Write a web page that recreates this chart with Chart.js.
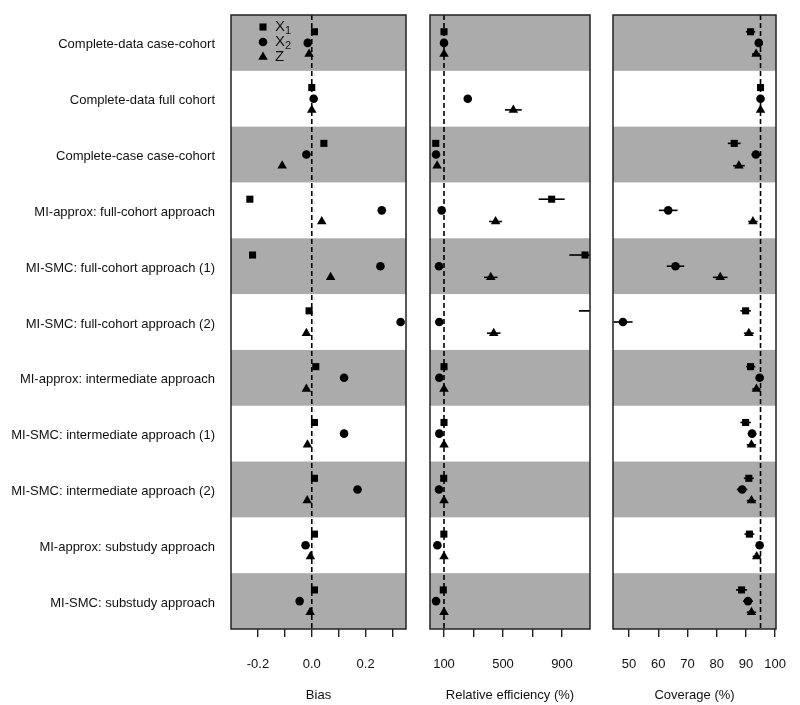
<!DOCTYPE html>
<html>
<head>
<meta charset="utf-8">
<script src="https://cdn.jsdelivr.net/npm/chart.js@4.4.1/dist/chart.umd.min.js"></script>
<style>
  body { margin: 0; background: #fff; }
  .panel { position: absolute; top: 0; }
</style>
</head>
<body>
<div class="panel" style="left:0px"><canvas id="bias" width="420" height="705"></canvas></div>
<div class="panel" style="left:420px"><canvas id="releff" width="180" height="705"></canvas></div>
<div class="panel" style="left:600px"><canvas id="coverage" width="200" height="705"></canvas></div>
<script>
// rows, top to bottom
const categories = [
    'Complete-data case-cohort',
    'Complete-data full cohort',
    'Complete-case case-cohort',
    'MI-approx: full-cohort approach',
    'MI-SMC: full-cohort approach (1)',
    'MI-SMC: full-cohort approach (2)',
    'MI-approx: intermediate approach',
    'MI-SMC: intermediate approach (1)',
    'MI-SMC: intermediate approach (2)',
    'MI-approx: substudy approach',
    'MI-SMC: substudy approach'
];

// Bias
const biasX1 = [0.01, 0.0, 0.045, -0.23, -0.22, -0.01, 0.015, 0.01, 0.01, 0.01, 0.01];
const biasX2 = [-0.015, 0.007, -0.02, 0.26, 0.255, 0.33, 0.12, 0.12, 0.17, -0.023, -0.045];
const biasZ  = [-0.01, 0.0, -0.11, 0.037, 0.07, -0.02, -0.02, -0.016, -0.017, -0.005, -0.006];
const biasTicks = [-0.2, -0.1, 0, 0.1, 0.2, 0.3];
const biasTickLabels = ['-0.2', '', '0.0', '', '0.2', ''];

// Relative efficiency (%) and half-width of the interval
const reX1 = [100, null, 44, 830, 1056, 1150, 100, 100, 98, 99, 95];
const reX2 = [100, 261, 46, 84, 66, 68, 68, 68, 66, 55, 46];
const reZ  = [100, 570, 53, 450, 417, 437, 100, 100, 100, 100, 100];
const reX1Err = [4, null, 4, 88, 106, 135, 4, 4, 4, 4, 4];
const reX2Err = [4, 6, 4, 5, 5, 5, 4, 4, 4, 4, 4];
const reZErr  = [4, 57, 4, 44, 46, 46, 4, 4, 4, 4, 4];
const reTicks = [100, 300, 500, 700, 900];
const reTickLabels = ['100', '', '500', '', '900'];

// Coverage (%) and half-width of the interval
const covX1 = [91.6, 95.0, 86.0, null, null, 89.9, 91.6, 89.9, 91.0, 91.2, 88.5];
const covX2 = [94.4, 95.0, 93.4, 63.4, 65.9, 47.9, 94.7, 92.1, 88.7, 94.7, 90.7];
const covZ  = [93.5, 95.0, 87.6, 92.4, 81.2, 91.0, 93.6, 91.9, 91.9, 93.7, 91.9];
const covX1Err = [1.6, 0.6, 2.2, null, null, 1.8, 1.6, 1.8, 1.7, 1.7, 1.9];
const covX2Err = [1.3, 0.6, 1.4, 3.2, 3.0, 3.3, 1.3, 1.5, 1.8, 1.3, 1.7];
const covZErr  = [1.4, 0.6, 2.0, 1.6, 2.5, 1.7, 1.4, 1.6, 1.6, 1.4, 1.6];
const covTicks = [50, 60, 70, 80, 90, 100];
const covTickLabels = ['50', '60', '70', '80', '90', '100'];

const FONT = "'Liberation Sans', Arial, sans-serif";
const INK = '#111';
const BAND = '#ababab';

Chart.defaults.font.family = FONT;
Chart.defaults.color = INK;
Chart.defaults.animation = false;

// marker style and vertical offset within a row for each series
const seriesStyle = [
    { label: 'X1', style: 'rect', radius: 5, offset: -0.2 },
    { label: 'X2', style: 'circle', radius: 4.3, offset: 0 },
    { label: 'Z', style: 'triangle', radius: 5.5, offset: 0.2 }
];

function makeDatasets(seriesList, errList) {
    return seriesList.map((vals, s) => {
        const st = seriesStyle[s];
        const pts = [];
        vals.forEach((v, i) => {
            if (v === null) return;
            const e = errList ? errList[s][i] : null;
            pts.push({ x: v, y: i + 1 + st.offset, e: e });
        });
        return {
            label: st.label,
            data: pts,
            pointStyle: st.style,
            pointRadius: st.radius,
            pointBackgroundColor: '#000',
            pointBorderColor: '#000',
            pointBorderWidth: 0,
            showLine: false
        };
    });
}

// grey bands, dashed reference line, error bars and frame
const panelDecor = {
    id: 'panelDecor',
    beforeDatasetsDraw(chart, args, opts) {
        const { ctx, chartArea: a, scales } = chart;
        const y = scales.y, x = scales.x;
        ctx.save();
        ctx.fillStyle = BAND;
        for (let r = 1; r <= categories.length; r += 2) {
            const y0 = y.getPixelForValue(r - 0.5);
            const y1 = y.getPixelForValue(r + 0.5);
            ctx.fillRect(a.left, Math.min(y0, y1), a.right - a.left, Math.abs(y1 - y0));
        }
        // reference line
        const rx = x.getPixelForValue(opts.ref);
        ctx.strokeStyle = '#000';
        ctx.lineWidth = 1.6;
        ctx.setLineDash([5, 3]);
        ctx.beginPath();
        ctx.moveTo(rx, a.top);
        ctx.lineTo(rx, a.bottom);
        ctx.stroke();
        ctx.setLineDash([]);
        // error bars
        ctx.beginPath();
        ctx.rect(a.left, a.top, a.right - a.left, a.bottom - a.top);
        ctx.clip();
        ctx.lineWidth = 1.6;
        chart.data.datasets.forEach(ds => {
            ds.data.forEach(p => {
                if (p.e == null) return;
                const py = y.getPixelForValue(p.y);
                ctx.beginPath();
                ctx.moveTo(x.getPixelForValue(p.x - p.e), py);
                ctx.lineTo(x.getPixelForValue(p.x + p.e), py);
                ctx.stroke();
            });
        });
        ctx.restore();
    },
    afterDraw(chart) {
        const { ctx, chartArea: a } = chart;
        ctx.save();
        ctx.strokeStyle = '#222';
        ctx.lineWidth = 1.5;
        ctx.strokeRect(a.left, a.top, a.right - a.left, a.bottom - a.top);
        ctx.restore();
    }
};

// legend inside the bias panel
const insideLegend = {
    id: 'insideLegend',
    afterDatasetsDraw(chart, args, opts) {
        if (!opts.show) return;
        const { ctx, chartArea: a } = chart;
        ctx.save();
        ctx.fillStyle = '#000';
        const subs = ['1', '2', ''];
        seriesStyle.forEach((st, i) => {
            const mx = a.left + 32, my = a.top + 12 + i * 15;
            Chart.helpers.drawPoint(ctx, { pointStyle: st.style, radius: st.radius, rotation: 0, borderWidth: 0 }, mx, my);
            ctx.fillStyle = INK;
            ctx.textBaseline = 'middle';
            ctx.textAlign = 'left';
            ctx.font = '15px ' + FONT;
            const main = st.label.charAt(0);
            ctx.fillText(main, mx + 12, my);
            if (subs[i]) {
                const w = ctx.measureText(main).width;
                ctx.font = '11px ' + FONT;
                ctx.fillText(subs[i], mx + 12 + w, my + 4);
            }
            ctx.fillStyle = '#000';
        });
        ctx.restore();
    }
};

function makePanel(id, cfg) {
    new Chart(document.getElementById(id), {
        type: 'scatter',
        data: { datasets: makeDatasets(cfg.series, cfg.errors) },
        options: {
            responsive: false,
            devicePixelRatio: 1,
            layout: { padding: { top: 15, left: cfg.padLeft, right: cfg.padRight, bottom: 0 } },
            scales: {
                x: {
                    type: 'linear',
                    min: cfg.min,
                    max: cfg.max,
                    afterBuildTicks: s => { s.ticks = cfg.ticks.map(v => ({ value: v })); },
                    afterFit: s => {
                        s.height = 76;
                        s.paddingLeft = 0;
                        s.paddingRight = 0;
                    },
                    grid: { drawOnChartArea: false, drawTicks: true, tickLength: 8, color: '#222', lineWidth: 1.4 },
                    border: { display: false },
                    ticks: {
                        padding: 20,
                        color: INK,
                        font: { size: 13 },
                        maxRotation: 0,
                        autoSkip: false,
                        callback: (v, i) => cfg.tickLabels[i]
                    },
                    title: { display: true, text: cfg.title, color: INK, font: { size: 13 }, padding: { top: 0, bottom: 2 } }
                },
                y: {
                    type: 'linear',
                    min: 0.5,
                    max: categories.length + 0.5,
                    reverse: true,
                    display: cfg.showLabels,
                    afterBuildTicks: s => { s.ticks = categories.map((c, i) => ({ value: i + 1 })); },
                    afterFit: s => {
                        if (!cfg.showLabels) return;
                        s.width = 231;
                        s.paddingTop = 0;
                        s.paddingBottom = 0;
                    },
                    grid: { display: false },
                    border: { display: false },
                    ticks: {
                        padding: 8,
                        labelOffset: 2,
                        color: INK,
                        font: { size: 13 },
                        autoSkip: false,
                        callback: (v, i) => categories[i]
                    }
                }
            },
            plugins: {
                legend: { display: false },
                tooltip: { enabled: false },
                panelDecor: { ref: cfg.ref },
                insideLegend: { show: cfg.showLabels }
            }
        },
        plugins: [panelDecor, insideLegend]
    });
}

makePanel('bias', {
    series: [biasX1, biasX2, biasZ], errors: null,
    min: -0.3, max: 0.35, ticks: biasTicks, tickLabels: biasTickLabels,
    title: 'Bias', ref: 0, showLabels: true, padLeft: 0, padRight: 14
});
makePanel('releff', {
    series: [reX1, reX2, reZ], errors: [reX1Err, reX2Err, reZErr],
    min: 5, max: 1090, ticks: reTicks, tickLabels: reTickLabels,
    title: 'Relative efficiency (%)', ref: 100, showLabels: false, padLeft: 10, padRight: 10
});
makePanel('coverage', {
    series: [covX1, covX2, covZ], errors: [covX1Err, covX2Err, covZErr],
    min: 44.5, max: 100.3, ticks: covTicks, tickLabels: covTickLabels,
    title: 'Coverage (%)', ref: 95, showLabels: false, padLeft: 13, padRight: 24
});
</script>
</body>
</html>
